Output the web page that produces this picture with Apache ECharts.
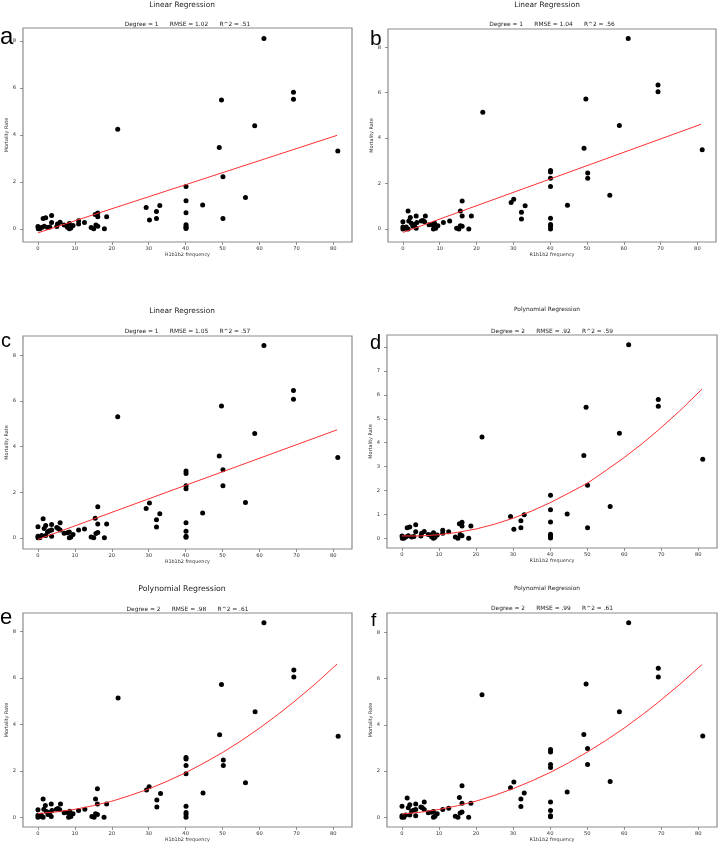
<!DOCTYPE html>
<html><head><meta charset="utf-8">
<script src="https://cdn.jsdelivr.net/npm/echarts@6/dist/echarts.min.js"></script>
<style>html,body{margin:0;padding:0;background:#fff}#c{width:718px;height:843px}</style>
</head><body><div id="c"></div>
<script>
// ---- data ----
const xA = [61.2, 69.2, 69.2, 49.7, 58.7, 21.6, 49.1, 81.2, 50.1, 40.1, 56.2, 40.1, 44.6, 33.0, 29.3, 32.1, 40.1, 30.2, 32.1, 50.1, 40.1, 40.1, 40.1, 40.1, 16.2, 15.5, 16.2, 18.6, 14.4, 15.1, 15.7, 16.2, 18.0, 12.6, 11.0, 11.0, 9.5, 8.9, 8.5, 8.0, 8.5, 7.8, 7.1, 6.0, 5.3, 5.1, 3.7, 3.7, 3.2, 2.1, 1.4, 1.7, 2.6, 1.0, 0.1, 0.1, 0.0, 0.5];
const yA = [8.10, 5.81, 5.52, 5.48, 4.39, 4.24, 3.46, 3.31, 2.22, 1.80, 1.33, 1.20, 1.02, 0.99, 0.91, 0.74, 0.68, 0.38, 0.44, 0.44, 0.17, 0.10, 0.05, 0.01, 0.67, 0.61, 0.52, 0.52, 0.06, 0.0, 0.16, 0.11, 0.0, 0.27, 0.34, 0.21, 0.14, 0.04, 0.0, 0.07, 0.23, 0.14, 0.16, 0.28, 0.21, 0.10, 0.57, 0.27, 0.08, 0.47, 0.44, 0.11, 0.06, 0.06, 0.06, 0.0, 0.10, 0.0];

const xB = [61.2, 69.3, 69.3, 49.7, 58.8, 21.7, 49.2, 81.3, 40.1, 40.1, 40.1, 40.1, 40.1, 40.1, 40.1, 40.1, 50.2, 50.2, 56.2, 44.7, 33.2, 30.1, 29.4, 32.2, 32.2, 16.1, 15.6, 16.1, 18.6, 15.6, 16.1, 14.6, 15.2, 17.9, 12.7, 11.0, 9.5, 8.9, 8.3, 8.3, 8.6, 8.0, 7.1, 6.1, 5.9, 5.0, 5.4, 3.6, 3.8, 3.6, 1.4, 2.0, 1.6, 2.3, 2.7, 3.2, 0.0, 0.0, 0.5, 0.9, 0.0, 1.4];
const yB = [8.38, 6.34, 6.04, 5.72, 4.55, 5.14, 3.55, 3.49, 2.57, 2.51, 2.23, 1.87, 0.47, 0.20, 0.12, 0.0, 2.47, 2.23, 1.49, 1.05, 1.02, 1.31, 1.17, 0.74, 0.44, 1.23, 0.79, 0.57, 0.57, 0.15, 0.12, 0.03, 0.0, 0.0, 0.35, 0.29, 0.15, 0.03, 0.0, 0.20, 0.26, 0.20, 0.19, 0.57, 0.32, 0.35, 0.38, 0.57, 0.29, 0.03, 0.79, 0.51, 0.35, 0.25, 0.12, 0.20, 0.32, 0.09, 0.03, 0.09, 0.0, 0.0];

const xC = [61.2, 69.2, 69.2, 49.7, 58.7, 21.6, 49.1, 81.2, 40.1, 40.1, 40.1, 40.1, 40.1, 40.1, 40.1, 40.1, 50.1, 50.1, 56.2, 44.6, 33.0, 30.2, 29.3, 32.1, 32.1, 16.2, 15.5, 16.2, 18.6, 15.7, 16.2, 14.4, 15.1, 18.0, 12.6, 11.0, 9.5, 8.9, 8.5, 8.5, 8.0, 7.1, 6.0, 6.0, 5.1, 5.5, 3.7, 3.7, 3.7, 1.4, 2.1, 1.7, 2.6, 3.1, 2.1, 0.0, 0.0, 0.5, 1.0, 0.0];
const yC = [8.42, 6.45, 6.07, 5.77, 4.57, 5.30, 3.58, 3.52, 2.93, 2.82, 2.28, 2.15, 0.66, 0.29, 0.07, 0.02, 2.98, 2.28, 1.55, 1.09, 1.05, 1.53, 1.28, 0.79, 0.47, 1.36, 0.86, 0.61, 0.61, 0.19, 0.23, 0.04, 0.0, 0.0, 0.39, 0.34, 0.15, 0.04, 0.0, 0.25, 0.22, 0.20, 0.66, 0.34, 0.45, 0.41, 0.58, 0.34, 0.07, 0.83, 0.54, 0.41, 0.26, 0.31, 0.10, 0.48, 0.07, 0.0, 0.10, 0.0];

// regression fits
const lineX = [0, 81];
const lineA = [-0.17, 3.98];
const lineB = [-0.15, 4.61];
const lineC = [-0.07, 4.73];
const curveX = [0, 5, 10, 15, 20, 25, 30, 35, 40, 45, 50, 55, 60, 65, 69, 75, 81];
const curveD = [0.10, 0.10, 0.15, 0.25, 0.39, 0.59, 0.84, 1.14, 1.49, 1.89, 2.30, 2.83, 3.38, 3.98, 4.50, 5.33, 6.24];
const curveE = [0.16, 0.23, 0.34, 0.50, 0.69, 0.94, 1.22, 1.55, 1.92, 2.34, 2.79, 3.29, 3.84, 4.43, 4.93, 5.73, 6.60];
const curveF = [0.14, 0.22, 0.34, 0.50, 0.70, 0.95, 1.24, 1.57, 1.94, 2.36, 2.82, 3.32, 3.86, 4.45, 4.95, 5.75, 6.61];

const letters = ['a', 'b', 'c', 'd', 'e', 'f'];
const titles = ['Linear Regression', 'Linear Regression', 'Linear Regression', 'Polynomial Regression', 'Polynomial Regression', 'Polynomial Regression'];
const subtitles = [
  'Degree = 1      RMSE = 1.02      R^2 = .51',
  'Degree = 1      RMSE = 1.04      R^2 = .56',
  'Degree = 1      RMSE = 1.05      R^2 = .57',
  'Degree = 2      RMSE = .92      R^2 = .59',
  'Degree = 2      RMSE = .98      R^2 = .61',
  'Degree = 2      RMSE = .99      R^2 = .61'
];
const xName = 'R1b1b2 frequency';
const yName = 'Mortality Rate';

// ---- layout ----
const layout = [
  {grid:{left:23, top:28, width:329, height:214}, ymin:-0.56, ymax:8.55, split:5, tSize:7.4, tPos:[182,5], sPos:[187.5,24], lPos:[0,25], lSize:24},
  {grid:{left:388, top:29, width:328, height:213}, ymin:-0.57, ymax:8.80, split:5, tSize:7.4, tPos:[547,5], sPos:[552,24], lPos:[370,29], lSize:21},
  {grid:{left:23, top:336, width:329, height:213}, ymin:-0.49, ymax:8.84, split:5, tSize:7.4, tPos:[182,311], sPos:[187.5,331], lPos:[1,331], lSize:20},
  {grid:{left:387, top:335, width:330, height:213}, ymin:-0.405, ymax:8.505, split:9, tSize:5.9, tPos:[547,309], sPos:[552,331], lPos:[370,333], lSize:20},
  {grid:{left:23, top:613, width:329, height:214}, ymin:-0.42, ymax:8.80, split:5, tSize:7.8, tPos:[182,589], sPos:[187.5,609], lPos:[0,607], lSize:22},
  {grid:{left:387, top:613, width:330, height:214}, ymin:-0.42, ymax:8.84, split:5, tSize:5.9, tPos:[547,588], sPos:[552,608.5], lPos:[371,611], lSize:19}
];

const pts = [[xA,yA],[xB,yB],[xC,yC],[xA,yA],[xB,yB],[xC,yC]];
const fits = [[lineX,lineA],[lineX,lineB],[lineX,lineC],[curveX,curveD],[curveX,curveE],[curveX,curveF]];
const zip = (a, b) => a.map((v, i) => [v, b[i]]);

const FONT = 'DejaVu Sans';
const grids = [], xAxes = [], yAxes = [], series = [], graphic = [];
layout.forEach((L, i) => {
  grids.push(Object.assign({show:true, borderColor:'#8c8c8c', borderWidth:1.2, backgroundColor:'#fff'}, L.grid));
  const axisCommon = {
    gridIndex:i, type:'value', splitLine:{show:false},
    axisLine:{show:false, onZero:false},
    axisTick:{show:true, length:3, lineStyle:{color:'#777', width:0.8}},
    nameTextStyle:{fontSize:4.9, color:'#333', fontFamily:FONT}
  };
  xAxes.push(Object.assign({}, axisCommon, {min:-4.05, max:85.05, splitNumber:9, name:xName, nameLocation:'middle', nameGap:10,
    axisLabel:{fontSize:5.2, color:'#333', fontFamily:FONT, margin:4, showMinLabel:false, showMaxLabel:false}}));
  yAxes.push(Object.assign({}, axisCommon, {min:L.ymin, max:L.ymax, splitNumber:L.split, name:yName, nameLocation:'middle', nameGap:10,
    axisLabel:{fontSize:5.2, color:'#333', fontFamily:FONT, margin:7, showMinLabel:false, showMaxLabel:false}}));
  series.push({type:'scatter', xAxisIndex:i, yAxisIndex:i, data:zip(pts[i][0], pts[i][1]), symbolSize:5, itemStyle:{color:'#000', opacity:1}, z:2});
  series.push({type:'line', xAxisIndex:i, yAxisIndex:i, data:zip(fits[i][0], fits[i][1]), showSymbol:false, smooth:false, lineStyle:{color:'#ff3030', width:1}, z:3});
  graphic.push({type:'text', x:L.tPos[0], y:L.tPos[1], style:{text:titles[i], fontSize:L.tSize, fontFamily:FONT, fill:'#222', textAlign:'center', textVerticalAlign:'middle'}});
  graphic.push({type:'text', x:L.sPos[0], y:L.sPos[1], style:{text:subtitles[i], fontSize:5.9, fontFamily:FONT, fill:'#222', textAlign:'center', textVerticalAlign:'middle'}});
  graphic.push({type:'text', x:L.lPos[0], y:L.lPos[1], style:{text:letters[i], fontSize:L.lSize, fontFamily:'Liberation Sans', fill:'#000', textAlign:'left', textVerticalAlign:'alphabetic'}});
});

const chart = echarts.init(document.getElementById('c'), null, {renderer:'canvas'});
chart.setOption({animation:false, backgroundColor:'#fff', grid:grids, xAxis:xAxes, yAxis:yAxes, series:series, graphic:graphic});
</script>
</body></html>
